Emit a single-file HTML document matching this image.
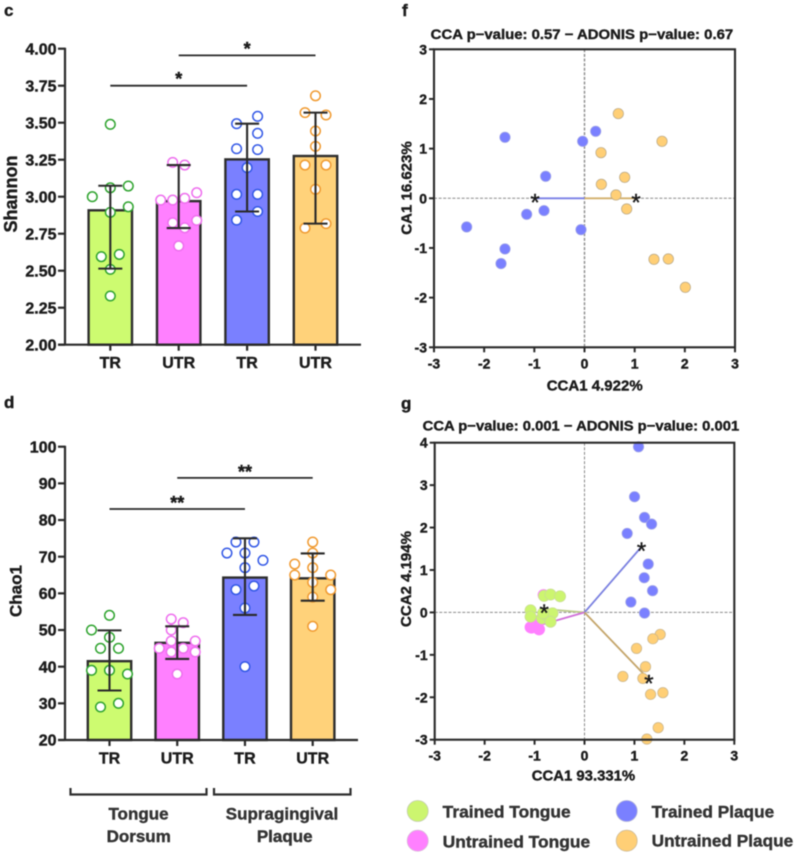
<!DOCTYPE html>
<html lang="en">
<head>
<meta charset="utf-8">
<title>Oral microbiome diversity and CCA charts</title>
<style>
html,body{margin:0;padding:0;background:#fff;width:797px;height:856px;overflow:hidden}
svg{display:block;filter:blur(0.5px)}
text{font-family:"Liberation Sans",Arial,sans-serif;font-weight:700;fill:#1c1c1c;stroke:#1c1c1c;stroke-width:0.4px}
</style>
</head>
<body>
<svg id="fig" width="797" height="856" viewBox="0 0 797 856" xmlns="http://www.w3.org/2000/svg">
  <text x="4" y="16" font-size="17">c</text>
  <text x="4" y="408" font-size="17">d</text>
  <text x="402" y="16" font-size="17">f</text>
  <text x="401" y="409" font-size="17">g</text>

  <text transform="translate(17 194) rotate(-90)" text-anchor="middle" font-size="18">Shannon</text>
  <text transform="translate(21.5 591) rotate(-90)" text-anchor="middle" font-size="17">Chao1</text>

  <g fill="none" stroke="#2e2e2e" stroke-width="2.2">
    <path d="M70.5 788V794.5H206.5V788"/>
    <path d="M214 788V794.5H350.5V788"/>
  </g>
  <g font-size="17" text-anchor="middle">
    <text x="138.5" y="819.5" style="fill:#333;stroke:#333">Tongue</text>
    <text x="138.7" y="842" style="fill:#333;stroke:#333">Dorsum</text>
    <text x="282" y="819.5" style="fill:#333;stroke:#333">Supragingival</text>
    <text x="284.7" y="842" style="fill:#333;stroke:#333">Plaque</text>
  </g>

  <text x="430.7" y="39" font-size="14" textLength="302.5" lengthAdjust="spacingAndGlyphs">CCA p−value: 0.57 − ADONIS p−value: 0.67</text>
  <text x="422.7" y="430.7" font-size="14" textLength="316.5" lengthAdjust="spacingAndGlyphs">CCA p−value: 0.001 − ADONIS p−value: 0.001</text>
  <text x="546.7" y="390.7" font-size="15" textLength="96" lengthAdjust="spacingAndGlyphs">CCA1 4.922%</text>
  <text x="531.7" y="780.7" font-size="15" textLength="103.5" lengthAdjust="spacingAndGlyphs">CCA1 93.331%</text>
  <text transform="translate(411.5 188) rotate(-90)" text-anchor="middle" font-size="15">CA1 16.623%</text>
  <text transform="translate(411 579) rotate(-90)" text-anchor="middle" font-size="15">CCA2 4.194%</text>

  <g>
    <g>
      <circle cx="417.7" cy="811" r="10.5" fill="#ccf56f" stroke="#c4cdb0" stroke-width="0.8"/>
      <text x="442.7" y="817.7" font-size="17" textLength="128" lengthAdjust="spacingAndGlyphs" style="fill:#333;stroke:#333">Trained Tongue</text>
    </g>
    <g>
      <circle cx="417.7" cy="840.7" r="10.5" fill="#ff80ff" stroke="#d9b8d9" stroke-width="0.8"/>
      <text x="442.7" y="847.7" font-size="17" textLength="147.5" lengthAdjust="spacingAndGlyphs" style="fill:#333;stroke:#333">Untrained Tongue</text>
    </g>
    <g>
      <circle cx="626.7" cy="811" r="10.5" fill="#7a80ff" stroke="#b0b2d8" stroke-width="0.8"/>
      <text x="651.7" y="817.7" font-size="17" textLength="122.5" lengthAdjust="spacingAndGlyphs" style="fill:#333;stroke:#333">Trained Plaque</text>
    </g>
    <g>
      <circle cx="626.7" cy="840.7" r="10.5" fill="#ffcf76" stroke="#cdbb98" stroke-width="0.8"/>
      <text x="651.7" y="846.7" font-size="17" textLength="141.5" lengthAdjust="spacingAndGlyphs" style="fill:#333;stroke:#333">Untrained Plaque</text>
    </g>
  </g>
</svg>
<script>
/* ---------- bar chart data ---------- */
const barCategories = ['TR', 'UTR', 'TR', 'UTR'];

const shannonTicks = ['2.00', '2.25', '2.50', '2.75', '3.00', '3.25', '3.50', '3.75', '4.00'];
const shannonMeans = [2.908, 2.97, 3.252, 3.275];
const shannonUpper = [3.074, 3.214, 3.493, 3.568];
const shannonLower = [2.514, 2.788, 2.9, 2.818];
const shannonTrainedTongue = [3.489, 3.072, 3.0, 3.06, 2.932, 2.894, 2.595, 2.61, 2.509, 2.329];
const shannonUntrainedTongue = [3.232, 3.214, 3.027, 2.977, 2.977, 2.989, 2.824, 2.79, 2.84, 2.667];
const shannonTrainedPlaque = [3.543, 3.493, 3.428, 3.324, 3.318, 3.196, 3.016, 3.016, 2.9, 2.842];
const shannonUntrainedPlaque = [3.682, 3.568, 3.552, 3.444, 3.34, 3.214, 3.214, 3.05, 2.818, 2.788];
const shannonDodgeTT = [0, 6, -6, 0, 6, 0, -3, 3, 0, 0];
const shannonDodgeUT = [-2, 2, 6, -6, -2, 2, -2, 2, 6, 0];
const shannonDodgeTP = [3.5, -3.5, 3.5, -3.5, 3.5, 0, -3.5, 3.5, 3.5, -3.5];
const shannonDodgeUP = [0, -3.5, 3.5, 0, 0, -3.5, 3.5, 0, 3.5, -3.5];
const shannonSigFrom = [0, 1];
const shannonSigTo = [2, 3];
const shannonSigLevel = [3.75, 3.955];
const shannonSigMark = ['*', '*'];

const chaoTicks = ['20', '30', '40', '50', '60', '70', '80', '90', '100'];
const chaoMeans = [41.5, 46.5, 64.3, 64.1];
const chaoUpper = [49.9, 51, 75, 70.9];
const chaoLower = [33.5, 42.1, 54.1, 58];
const chaoTrainedTongue = [54, 50, 48, 45, 45, 39, 39, 38, 30, 29];
const chaoUntrainedTongue = [53, 52, 50, 47, 47, 45, 45, 44, 44, 38];
const chaoTrainedPlaque = [74, 74, 71, 71, 69, 67, 62, 61, 56, 40];
const chaoUntrainedPlaque = [74, 71, 68, 67, 65, 65, 63, 61, 59, 51];
const chaoDodgeTT = [0, -6, 0, -3, 3, -6, 0, 6, 3, -3];
const chaoDodgeUT = [-2, 2, -2, -2, 6, -6, 2, -2, 6, 0];
const chaoDodgeTP = [-3, 3, -6, 0, 6, 0, 3, -3, 0, 0];
const chaoDodgeUP = [0, 0, -6, 0, -6, 6, 0, 6, 0, 0];
const chaoSigFrom = [0, 1];
const chaoSigTo = [2, 3];
const chaoSigLevel = [83, 91.5];
const chaoSigMark = ['**', '**'];

/* ---------- scatter chart data ---------- */
const scatterTicksX = [-3, -2, -1, 0, 1, 2, 3];
const scatterTicksF = [-3, -2, -1, 0, 1, 2, 3];
const scatterTicksG = [-3, -2, -1, 0, 1, 2, 3, 4];

const fTrainedPlaqueX = [-1.585, 0.223, -0.037, -0.774, -0.807, -1.153, -0.07, -2.349, -1.585, -1.664];
const fTrainedPlaqueY = [1.228, 1.349, 1.148, 0.443, -0.248, -0.322, -0.631, -0.577, -1.02, -1.315];
const fUntrainedPlaqueX = [0.674, 1.545, 0.329, 0.801, 0.336, 0.628, 0.841, 1.385, 1.671, 2.01];
const fUntrainedPlaqueY = [1.705, 1.148, 0.919, 0.423, 0.282, 0.067, -0.215, -1.228, -1.221, -1.792];
const fCentroidX = [-0.987, 1.027];
const fCentroidY = [0, 0];

const gUntrainedTongueX = [-1.08, -1.0, -0.91, -0.96, -1.03, -0.82, -0.89, -0.95, -1.06, -0.93];
const gUntrainedTongueY = [-0.35, -0.28, -0.4, -0.34, -0.34, 0.41, -0.18, -0.26, -0.36, -0.38];
const gTrainedTongueX = [-0.81, -0.68, -0.49, -1.08, -1.08, -0.85, -0.73, -0.64, -0.68, -0.83];
const gTrainedTongueY = [0.39, 0.42, 0.38, 0.05, -0.1, -0.14, -0.1, -0.02, -0.22, -0.02];
const gTrainedPlaqueX = [1.082, 1.002, 1.202, 1.343, 0.855, 1.276, 1.196, 1.363, 0.929, 1.202];
const gTrainedPlaqueY = [3.904, 2.726, 2.239, 2.082, 1.862, 1.139, 0.817, 0.511, 0.244, -0.016];
const gUntrainedPlaqueX = [1.516, 1.369, 1.042, 1.222, 0.768, 1.169, 1.323, 1.57, 1.476, 1.249];
const gUntrainedPlaqueY = [-0.518, -0.621, -0.848, -1.28, -1.508, -1.555, -1.932, -1.893, -2.718, -2.985];
const gCentroidX = [-0.808, -0.89, 1.142, 1.289];
const gCentroidY = [0.079, -0.3, 1.547, -1.579];

/* ---------- helpers ---------- */
const NS = 'http://www.w3.org/2000/svg';
const svg = document.getElementById('fig');
const DARK = '#2a2a2a';
function linear(d0, d1, r0, r1) {
  return function (v) { return r0 + (v - d0) / (d1 - d0) * (r1 - r0); };
}
function mk(tag, attrs, parent) {
  const n = document.createElementNS(NS, tag);
  for (const k in attrs) n.setAttribute(k, attrs[k]);
  parent.appendChild(n);
  return n;
}

/* ---------- bar panel ---------- */
function drawBarPanel(name, o) {
  const g = mk('g', {}, svg);
  
  
  const bandX = linear(0, 3, o.x0, o.x3);
  const y = linear(o.dMin, o.dMax, o.yBottom, o.yTop);
  const fills = ['#cdfb70', '#ff80ff', '#7a80ff', '#ffd27a'];
  const strokes = ['#2ea32e', '#ee6eee', '#3358e6', '#f09a30'];

  o.means.forEach(function (m, i) {
    const bar = mk('rect', { x: bandX(i) - 21.7, y: y(m), width: 43.4, height: o.yBottom - y(m), fill: fills[i], stroke: '#2e2e2e', 'stroke-width': 2.4 }, g);
    
    
  });

  o.points.forEach(function (series, i) {
    series.forEach(function (v, j) {
      const p = mk('circle', { cx: bandX(i) + o.dodge[i][j] * 3, cy: y(v), r: 4.8, fill: '#fff', stroke: strokes[i], 'stroke-width': 1.5 }, g);
      
      
    });
  });

  o.means.forEach(function (m, i) {
    const cx = bandX(i);
    const e = mk('path', {
      d: 'M' + cx + ' ' + y(o.lower[i]) + 'V' + y(o.upper[i]) +
         'M' + (cx - 12) + ' ' + y(o.upper[i]) + 'H' + (cx + 12) +
         'M' + (cx - 12) + ' ' + y(o.lower[i]) + 'H' + (cx + 12),
      stroke: DARK, 'stroke-width': 2.1, fill: 'none'
    }, g);
    
    
  });

  const yAxis = mk('line', { x1: 65, x2: 65, y1: o.yTop - 1, y2: o.yBottom, stroke: DARK, 'stroke-width': 2.2 }, g);
  
  
  const xAxis = mk('line', { x1: 58, x2: o.xEnd, y1: o.yBottom, y2: o.yBottom, stroke: DARK, 'stroke-width': 2.2 }, g);
  
  

  o.ticks.forEach(function (t) {
    const ty = y(parseFloat(t));
    const tick = mk('line', { x1: 58, x2: 65, y1: ty, y2: ty, stroke: DARK, 'stroke-width': 2.2 }, g);
    
    
    const lab = mk('text', { x: 56.5, y: ty + 5.7, 'text-anchor': 'end', 'font-size': 16 }, g);
    lab.textContent = t;
    
    
  });

  barCategories.forEach(function (c, i) {
    const cx = bandX(i);
    const tick = mk('line', { x1: cx, x2: cx, y1: o.yBottom, y2: o.yBottom + 6, stroke: DARK, 'stroke-width': 2.2 }, g);
    
    
    const lab = mk('text', { x: cx, y: o.labelY, 'text-anchor': 'middle', 'font-size': 16 }, g);
    lab.textContent = c;
    
    
  });

  o.sigFrom.forEach(function (a, i) {
    const sy = y(o.sigLevel[i]);
    const x1 = bandX(a), x2 = bandX(o.sigTo[i]);
    const l = mk('line', { x1: x1, x2: x2, y1: sy, y2: sy, stroke: DARK, 'stroke-width': 1.8 }, g);
    
    
    const s = mk('text', { x: (x1 + x2) / 2, y: sy - o.sigGap, 'text-anchor': 'middle', 'font-size': 18 }, g);
    s.textContent = o.sigMark[i];
    
    
  });
}

drawBarPanel('shannon-bar-chart', {
  dMin: 2, dMax: 4, yBottom: 344.7, yTop: 48.7, x0: 110.3, x3: 315.5, xEnd: 361, labelY: 368,
  ticks: shannonTicks, means: shannonMeans, upper: shannonUpper, lower: shannonLower,
  points: [shannonTrainedTongue, shannonUntrainedTongue, shannonTrainedPlaque, shannonUntrainedPlaque],
  dodge: [shannonDodgeTT, shannonDodgeUT, shannonDodgeTP, shannonDodgeUP],
  sigFrom: shannonSigFrom, sigTo: shannonSigTo, sigLevel: shannonSigLevel, sigMark: shannonSigMark, sigGap: 0.5
});
drawBarPanel('chao1-bar-chart', {
  dMin: 20, dMax: 100, yBottom: 740, yTop: 446.7, x0: 109.5, x3: 312.7, xEnd: 358, labelY: 763.3,
  ticks: chaoTicks, means: chaoMeans, upper: chaoUpper, lower: chaoLower,
  points: [chaoTrainedTongue, chaoUntrainedTongue, chaoTrainedPlaque, chaoUntrainedPlaque],
  dodge: [chaoDodgeTT, chaoDodgeUT, chaoDodgeTP, chaoDodgeUP],
  sigFrom: chaoSigFrom, sigTo: chaoSigTo, sigLevel: chaoSigLevel, sigMark: chaoSigMark, sigGap: 0
});

/* ---------- scatter panel ---------- */
function drawScatterPanel(name, o) {
  const g = mk('g', {}, svg);
  
  
  const x = linear(-3, 3, o.left, o.right);
  const y = linear(o.yMin, o.yMax, o.bottom, o.top);

  const zx = mk('line', { x1: o.left, x2: o.right, y1: y(0), y2: y(0), stroke: '#8a8a8a', 'stroke-width': 1, 'stroke-dasharray': '3 1.6' }, g);
  
  
  const zy = mk('line', { x1: x(0), x2: x(0), y1: o.top, y2: o.bottom, stroke: '#8a8a8a', 'stroke-width': o.zeroWidth, 'stroke-dasharray': '3 1.6' }, g);
  
  

  o.centroidX.forEach(function (cx, i) {
    const l = mk('line', { x1: x(0), y1: y(0), x2: x(cx), y2: y(o.centroidY[i]), stroke: o.lineColors[i], 'stroke-width': 1.8 }, g);
    
    
  });

  o.series.forEach(function (s) {
    s.xs.forEach(function (v, j) {
      const p = mk('circle', { cx: x(v), cy: y(s.ys[j]), r: s.radius, fill: s.fill, stroke: s.stroke, 'stroke-width': 0.7 }, g);
      
      
    });
  });

  o.centroidX.forEach(function (cx, i) {
    if (o.hideStar[i]) return;
    const st = mk('text', { x: x(cx), y: y(o.centroidY[i]) + 12, 'text-anchor': 'middle', 'font-size': 24 }, g);
    st.style.fontWeight = '400';
    st.textContent = '*';
    
    
  });

  const frame = mk('rect', { x: o.left, y: o.top, width: o.right - o.left, height: o.bottom - o.top, fill: 'none', stroke: DARK, 'stroke-width': 2.1 }, g);
  
  

  scatterTicksX.forEach(function (t) {
    const tx = x(t);
    const tk = mk('line', { x1: tx, x2: tx, y1: o.bottom, y2: o.bottom + 5, stroke: DARK, 'stroke-width': 2 }, g);
    
    
    const lab = mk('text', { x: tx, y: o.bottom + 21, 'text-anchor': 'middle', 'font-size': 14 }, g);
    lab.textContent = String(t);
    
    
  });
  o.ticksY.forEach(function (t) {
    const ty = y(t);
    const tk = mk('line', { x1: o.left - 5, x2: o.left, y1: ty, y2: ty, stroke: DARK, 'stroke-width': 2 }, g);
    
    
    const lab = mk('text', { x: o.left - 7, y: ty + 5, 'text-anchor': 'end', 'font-size': 14 }, g);
    lab.textContent = String(t);
    
    
  });
}

const COL_TT = '#ccf56f', COL_UT = '#ff80ff', COL_TP = '#7a80ff', COL_UP = '#ffcf76';

drawScatterPanel('cca-scatter-plaque', {
  left: 434, right: 735, top: 49.3, bottom: 347.3, yMin: -3, yMax: 3, zeroWidth: 1.4,
  ticksY: scatterTicksF,
  centroidX: fCentroidX, centroidY: fCentroidY,
  lineColors: ['#7a80e6', '#d2b06c'], hideStar: [false, false],
  series: [
    { xs: fTrainedPlaqueX, ys: fTrainedPlaqueY, fill: COL_TP, stroke: '#9fa3e6', radius: 5.2 },
    { xs: fUntrainedPlaqueX, ys: fUntrainedPlaqueY, fill: COL_UP, stroke: '#b8a888', radius: 5.2 }
  ]
});
drawScatterPanel('cca-scatter-all', {
  left: 434.7, right: 734.3, top: 442.7, bottom: 739.7, yMin: -3, yMax: 4, zeroWidth: 1,
  ticksY: scatterTicksG,
  centroidX: gCentroidX, centroidY: gCentroidY,
  lineColors: ['#bccb8c', '#d070d8', '#7a80e0', '#c4a56a'], hideStar: [false, true, false, false],
  series: [
    { xs: gUntrainedTongueX, ys: gUntrainedTongueY, fill: COL_UT, stroke: COL_UT, radius: 5.6 },
    { xs: gTrainedTongueX, ys: gTrainedTongueY, fill: COL_TT, stroke: '#c9dc96', radius: 5.6 },
    { xs: gTrainedPlaqueX, ys: gTrainedPlaqueY, fill: COL_TP, stroke: '#9fa3e6', radius: 5.2 },
    { xs: gUntrainedPlaqueX, ys: gUntrainedPlaqueY, fill: COL_UP, stroke: '#c8b48c', radius: 5.2 }
  ]
});
</script>
</body>
</html>
